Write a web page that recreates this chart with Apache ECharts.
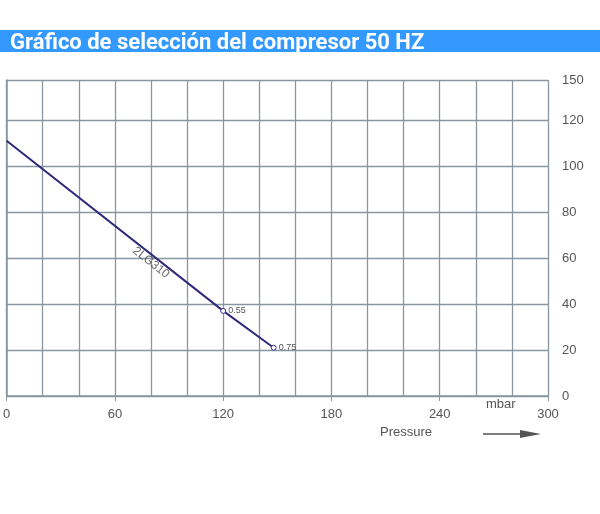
<!DOCTYPE html>
<html><head><meta charset="utf-8">
<script src="https://cdn.jsdelivr.net/npm/echarts@6/dist/echarts.min.js"></script>
<style>html,body{margin:0;padding:0;background:#fff}#c{width:600px;height:514px}</style>
</head><body><div id="c"></div>
<script>
const curveX = [0, 120, 148];
const curveY = [111, 37, 21];
const pointLabels = ['', '0.55', '0.75'];
const seriesName = '2LG310';
const labelPos = [80, 58];
const yTopLabel = '150';

const gridColor = '#8796a0';
const chart = echarts.init(document.getElementById('c'));
chart.setOption({
  animation: false,
  grid: {left: -1, right: 52, top: 80, bottom: 118, containLabel: false},
  xAxis: [{
    type: 'value', min: 0, max: 300, interval: 20, position: 'bottom',
    axisLine: {show: true, lineStyle: {color: gridColor, width: 1.5}},
    axisTick: {show: false}, axisLabel: {show: false},
    splitLine: {show: true, lineStyle: {color: gridColor, width: 1.3}}
  }, {
    type: 'value', min: 0, max: 300, interval: 60, position: 'bottom',
    axisLine: {show: false},
    axisTick: {show: true, length: 5, lineStyle: {color: gridColor}},
    axisLabel: {color: '#555', fontSize: 13, fontFamily: 'Liberation Sans', margin: 12},
    splitLine: {show: false}
  }],
  yAxis: {
    type: 'value', position: 'right', min: 0, max: 137.4, interval: 20,
    axisLine: {show: true, lineStyle: {color: gridColor, width: 1.5}},
    axisTick: {show: true, length: 5, lineStyle: {color: gridColor}},
    axisLabel: {color: '#555', fontSize: 13, fontFamily: 'Liberation Sans', margin: 14,
      showMaxLabel: true,
      formatter: v => v > 130 ? yTopLabel : String(v)},
    splitLine: {show: true, lineStyle: {color: gridColor, width: 1.3}}
  },
  series: [{
    type: 'line', name: seriesName,
    data: curveX.map((x, i) => ({
      value: [x, curveY[i]],
      symbol: pointLabels[i] ? 'circle' : 'none',
      label: {show: !!pointLabels[i], formatter: pointLabels[i], position: 'right',
        distance: 2, fontSize: 9, color: '#555', fontFamily: 'Liberation Sans'}
    })),
    symbolSize: 5,
    itemStyle: {color: '#fff', borderColor: '#3a2e8a', borderWidth: 1},
    lineStyle: {color: '#2e2a7a', width: 2}
  }, {
    type: 'scatter', symbolSize: 0,
    data: [{value: labelPos, label: {show: true, formatter: seriesName, rotate: -38,
      position: 'inside', fontSize: 12, color: '#444', fontFamily: 'Liberation Sans'}}]
  }],
  graphic: [
    {type: 'rect', shape: {x: 0, y: 30, width: 600, height: 22}, style: {fill: '#3399ff'}},
    {type: 'text', left: 10, top: 32, style: {text: 'Gráfico de selección del compresor 50 HZ',
      fill: '#fff', font: 'bold 22px Roboto'}},
    {type: 'rect', shape: {x: 0, y: 52, width: 600, height: 10}, style: {fill: '#fff'}},
    {type: 'text', left: 486, top: 398, style: {text: 'mbar', fill: '#555', font: '13px Liberation Sans'}},
    {type: 'text', left: 380, top: 426, style: {text: 'Pressure', fill: '#555', font: '13px Liberation Sans'}},
    {type: 'line', shape: {x1: 483, y1: 434, x2: 530, y2: 434}, style: {stroke: '#555', lineWidth: 1.5}},
    {type: 'polygon', shape: {points: [[520, 430], [541, 434], [520, 438]]}, style: {fill: '#555'}}
  ]
});
</script></body></html>
